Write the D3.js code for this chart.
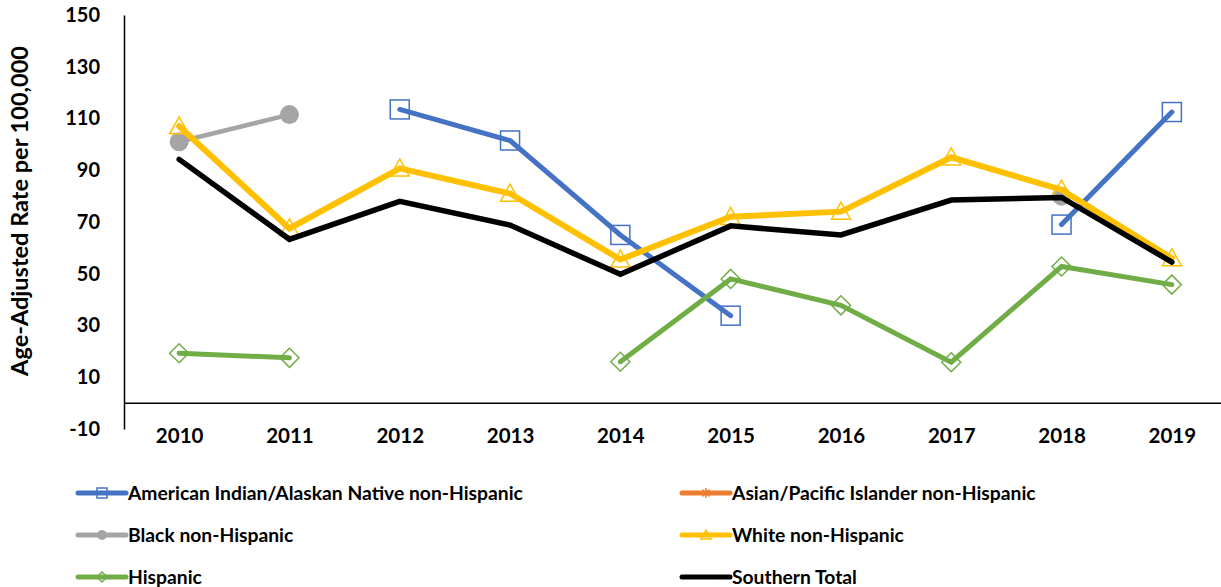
<!DOCTYPE html>
<html>
<head>
<meta charset="utf-8">
<script src="https://cdn.jsdelivr.net/npm/d3@7"></script>
<style>
  html, body { margin: 0; padding: 0; background: #fff; }
  svg { display: block; }
  text { font-family: Lato, "Open Sans", "Liberation Sans", sans-serif; font-weight: 700; fill: #000; }
</style>
</head>
<body>
<svg id="chart" width="1221" height="587"></svg>
<script>
// Years on the category axis
const years = ["2010","2011","2012","2013","2014","2015","2016","2017","2018","2019"];
const yTicks = [-10, 10, 30, 50, 70, 90, 110, 130, 150];

// Age-adjusted rates per 100,000 (null = suppressed / not reported)
const aianValues     = [null, null, 113.5, 101.5, 65, 33.8, null, null, 69, 112.5];
const asianValues    = [null, null, null, null, null, null, null, null, null, null];
const blackValues    = [101, 111.5, null, null, null, null, null, null, 80, null];
const whiteValues    = [107, 67.5, 90.7, 81, 55.5, 72, 74, 95, 82.5, 56];
const hispanicValues = [19.3, 17.5, null, null, 16, 48, 37.8, 15.8, 52.8, 45.8];
const totalValues    = [94.2, 63.3, 78, 68.8, 49.8, 68.5, 65, 78.5, 79.5, 54.5];

const seriesNames = [
  "American Indian/Alaskan Native non-Hispanic",
  "Asian/Pacific Islander non-Hispanic",
  "Black non-Hispanic",
  "White non-Hispanic",
  "Hispanic",
  "Southern Total"
];

const series = [
  { name: seriesNames[0], values: aianValues,     color: "#4472C4", marker: "square",   width: 5 },
  { name: seriesNames[1], values: asianValues,    color: "#ED7D31", marker: "star",     width: 5 },
  { name: seriesNames[2], values: blackValues,    color: "#A5A5A5", marker: "circle",   width: 4.5 },
  { name: seriesNames[3], values: whiteValues,    color: "#FFC000", marker: "triangle", width: 6 },
  { name: seriesNames[4], values: hispanicValues, color: "#70AD47", marker: "diamond",  width: 5 },
  { name: seriesNames[5], values: totalValues,    color: "#000000", marker: "none",     width: 5.5 }
];

const svg = d3.select("#chart");

const x = d3.scalePoint().domain(years).range([124, 1227]).padding(0.5);
const y = d3.scaleLinear().domain([-10, 150]).range([429, 15]);

// Y axis (line runs the full value range, no tick marks)
const yAxis = svg.append("g")
  .attr("transform", "translate(124,0)")
  .call(d3.axisLeft(y).tickValues(yTicks).tickSize(0).tickSizeOuter(0).tickPadding(24).tickFormat(d => String(d)));
yAxis.select(".domain").attr("stroke", "#000").attr("stroke-width", 1.5);
yAxis.selectAll("text").style("font-size", "20px").style("font-family", null);

// X axis sits on the zero line
const xAxis = svg.append("g")
  .attr("transform", `translate(0,${y(0)})`)
  .call(d3.axisBottom(x).tickSize(0).tickSizeOuter(0));
xAxis.select(".domain").attr("stroke", "#000").attr("stroke-width", 1.5)
  .attr("d", `M124,0H1221`);
xAxis.selectAll("text").attr("dy", null).attr("y", 40).style("font-size", "20.5px").style("font-family", null);

// Y axis title
svg.append("text")
  .attr("transform", "translate(28,211) rotate(-90)")
  .attr("text-anchor", "middle")
  .style("font-size", "23.5px")
  .text("Age-Adjusted Rate per 100,000");

// Marker drawing helper
function drawMarker(g, type, color, size) {
  const h = size / 2;
  if (type === "square") {
    g.append("rect").attr("x", -h).attr("y", -h).attr("width", size).attr("height", size)
      .attr("fill", "none").attr("stroke", color).attr("stroke-width", 1.5);
  } else if (type === "circle") {
    g.append("circle").attr("r", h).attr("fill", color);
  } else if (type === "triangle") {
    g.append("path").attr("d", `M0,${-h}L${h},${h * 0.8}L${-h},${h * 0.8}Z`)
      .attr("fill", "none").attr("stroke", color).attr("stroke-width", 1.5);
  } else if (type === "diamond") {
    g.append("path").attr("d", `M0,${-h}L${h},0L0,${h}L${-h},0Z`)
      .attr("fill", "none").attr("stroke", color).attr("stroke-width", 1.5);
  } else if (type === "star") {
    const r = h;
    const d = [0, 45, 90, 135].map(a => {
      const t = a * Math.PI / 180;
      return `M${-r * Math.cos(t)},${-r * Math.sin(t)}L${r * Math.cos(t)},${r * Math.sin(t)}`;
    }).join("");
    g.append("path").attr("d", d).attr("stroke", color).attr("stroke-width", 1.5);
  }
}

const line = d3.line()
  .defined(d => d.v != null)
  .x(d => x(d.year))
  .y(d => y(d.v));

// Series lines and markers in drawing order
series.forEach(s => {
  const pts = years.map((yr, i) => ({ year: yr, v: s.values[i] }));
  const g = svg.append("g");
  g.append("path")
    .datum(pts)
    .attr("d", line)
    .attr("fill", "none")
    .attr("stroke", s.color)
    .attr("stroke-width", s.width)
    .attr("stroke-linecap", "round")
    .attr("stroke-linejoin", "miter");
  if (s.marker !== "none") {
    pts.filter(p => p.v != null).forEach(p => {
      const mg = g.append("g").attr("transform", `translate(${x(p.year)},${y(p.v)})`);
      drawMarker(mg, s.marker, s.color, 19);
    });
  }
});

// Legend: two columns, three rows
const legendCols = [78, 682];
const legendRows = [493, 535, 577];
const legendOrder = [[0, 1], [2, 3], [4, 5]];
legendOrder.forEach((row, ri) => {
  row.forEach((si, ci) => {
    const s = series[si];
    const lx = legendCols[ci];
    const ly = legendRows[ri];
    const lg = svg.append("g").attr("transform", `translate(${lx},${ly})`);
    lg.append("line").attr("x1", 0).attr("x2", 48).attr("y1", 0).attr("y2", 0)
      .attr("stroke", s.color).attr("stroke-width", 5).attr("stroke-linecap", "round");
    if (s.marker !== "none") {
      const mg = lg.append("g").attr("transform", "translate(24,0)");
      drawMarker(mg, s.marker, s.color, 10);
    }
    lg.append("text").attr("x", 50).attr("y", 7)
      .style("font-size", "19.3px")
      .text(s.name);
  });
});
</script>
</body>
</html>
